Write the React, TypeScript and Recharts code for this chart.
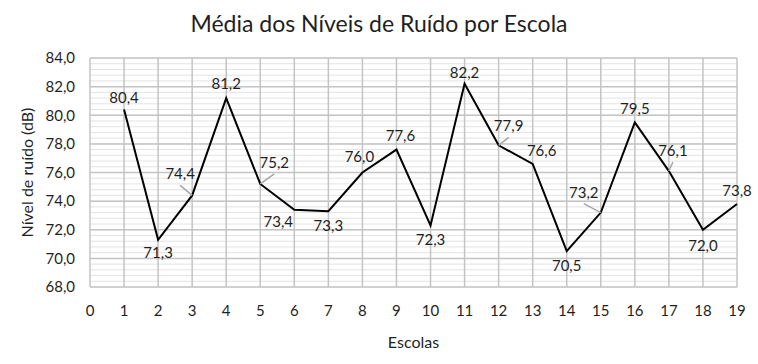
import { LineChart, Line, XAxis, YAxis, CartesianGrid, LabelList, Label } from 'recharts'

const escolas = [1, 2, 3, 4, 5, 6, 7, 8, 9, 10, 11, 12, 13, 14, 15, 16, 17, 18, 19]
const niveis = [80.4, 71.3, 74.4, 81.2, 75.2, 73.4, 73.3, 76.0, 77.6, 72.3, 82.2, 77.9, 76.6, 70.5, 73.2, 79.5, 76.1, 72.0, 73.8]
const xTicks = [0, 1, 2, 3, 4, 5, 6, 7, 8, 9, 10, 11, 12, 13, 14, 15, 16, 17, 18, 19]
const yTicks = [68, 70, 72, 74, 76, 78, 80, 82, 84]

// minor gridlines every 0.4 dB (Excel default minor unit)
const minorTicks: number[] = []
for (let v = 68; v <= 84.001; v += 0.4) minorTicks.push(Math.round(v * 10) / 10)

// label placement relative to the point: [dx, dy, leader line]
const labelPos: [number, number, boolean][] = [
  [0, -13, false],
  [0, 12, false],
  [-12, -22, true],
  [0, -15, false],
  [14, -22, true],
  [-16, 11, false],
  [0, 14, false],
  [-3, -17, false],
  [4, -15, false],
  [0, 14, false],
  [0, -12, false],
  [10, -20, true],
  [9, -14, false],
  [0, 14, false],
  [-17, -21, true],
  [0, -14, false],
  [4, -21, true],
  [0, 15, false],
  [0, -14, false],
]

const data = escolas.map((e, i) => ({ escola: e, nivel: niveis[i] }))

const FONT = 'Lato, "Open Sans", sans-serif'
const TEXT = '#1f1f1f'

const fmt = (v: number) => v.toFixed(1).replace('.', ',')

function PointLabel(props: any) {
  const { x, y, value, index } = props
  const [dx, dy, leader] = labelPos[index] || [0, -14, false]
  return (
    <g>
      {leader && (
        <line x1={x + dx} y1={y + dy + 12} x2={x} y2={y} stroke="#a6a6a6" strokeWidth={1.5} />
      )}
      <text
        x={x + dx}
        y={y + dy}
        textAnchor="middle"
        dominantBaseline="central"
        fill={TEXT}
        fontSize={15}
        fontFamily={FONT}
      >
        {fmt(value)}
      </text>
    </g>
  )
}

export default function App() {
  return (
    <div style={{ position: 'absolute', left: 0, top: 0, width: 758, height: 364, background: '#fff' }}>
      <div
        style={{
          position: 'absolute',
          left: 0,
          top: 8,
          width: 758,
          textAlign: 'center',
          fontFamily: FONT,
          fontSize: 23,
          color: TEXT,
          lineHeight: '30px',
        }}
      >
        Média dos Níveis de Ruído por Escola
      </div>
      <LineChart width={758} height={364} data={data} margin={{ top: 58, right: 21, left: 0, bottom: 0 }}>
        <CartesianGrid
          vertical={false}
          stroke="#e3e3e3"
          strokeWidth={1}
          horizontalCoordinatesGenerator={(p: any) =>
            minorTicks.map((v) =>
              typeof p.yAxis?.scale === 'function'
                ? p.yAxis.scale(v)
                : p.offset.top + ((84 - v) / 16) * p.offset.height
            )
          }
        />
        <CartesianGrid stroke="#c4c4c4" strokeWidth={1.5} />
        <XAxis
          dataKey="escola"
          type="number"
          domain={[0, 19]}
          ticks={xTicks}
          interval={0}
          height={77}
          axisLine={false}
          tickLine={false}
          tickSize={0}
          tickMargin={18}
          tick={{ fill: TEXT, fontSize: 15, fontFamily: FONT }}
        >
          <Label
            content={(p: any) => {
              const vb = p.viewBox || { x: 90, y: 287, width: 647 }
              return (
                <text
                  x={vb.x + vb.width / 2}
                  y={vb.y + 54}
                  textAnchor="middle"
                  dominantBaseline="central"
                  fill={TEXT}
                  fontSize={16}
                  fontFamily={FONT}
                >
                  Escolas
                </text>
              )
            }}
          />
        </XAxis>
        <YAxis
          type="number"
          domain={[68, 84]}
          ticks={yTicks}
          width={90}
          axisLine={false}
          tickLine={false}
          tickSize={0}
          tickMargin={15}
          tickFormatter={fmt}
          tick={{ fill: TEXT, fontSize: 15, fontFamily: FONT }}
        >
          <Label
            content={(p: any) => {
              const vb = p.viewBox || { x: 0, y: 58, height: 229 }
              const cx = vb.x + 26
              const cy = vb.y + vb.height / 2
              return (
                <text
                  x={cx}
                  y={cy}
                  transform={`rotate(-90 ${cx} ${cy})`}
                  textAnchor="middle"
                  dominantBaseline="central"
                  fill={TEXT}
                  fontSize={16}
                  fontFamily={FONT}
                >
                  Nível de ruído (dB)
                </text>
              )
            }}
          />
        </YAxis>
        <Line
          type="linear"
          dataKey="nivel"
          stroke="#000"
          strokeWidth={2}
          dot={false}
          isAnimationActive={false}
        >
          <LabelList dataKey="nivel" content={PointLabel} />
        </Line>
      </LineChart>
    </div>
  )
}
